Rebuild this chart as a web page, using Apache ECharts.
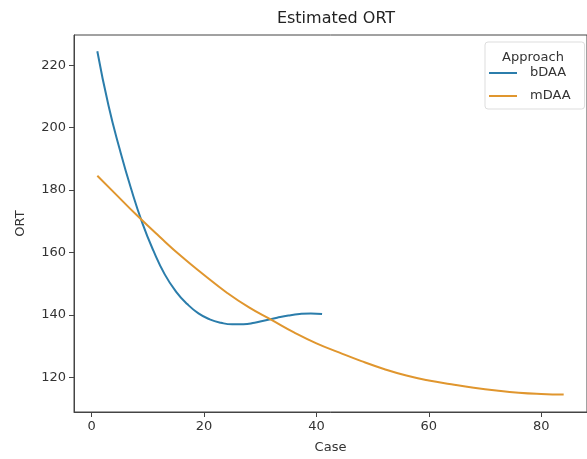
<!DOCTYPE html>
<html>
<head>
<meta charset="utf-8">
<script src="https://cdn.jsdelivr.net/npm/echarts@6/dist/echarts.min.js"></script>
<style>
  html, body { margin: 0; padding: 0; background: #fff; }
  #chart { width: 587px; height: 459px; }
</style>
</head>
<body>
<div id="chart"></div>
<script>
// values
const caseB = [1, 3, 5, 7, 9, 11, 13, 15, 17, 19, 21, 23, 25, 27, 29, 31, 33, 35, 37, 39, 41];
const ortB = [224.5, 207, 193, 180.5, 169.5, 160.5, 153, 147.5, 143.5, 140.5, 138.6, 137.5, 137.0, 137.0, 137.5, 138.3, 139.1, 139.8, 140.3, 140.5, 140.3];

const caseM = [1, 4, 8, 12, 16, 20, 24, 28, 32, 36, 40, 44, 48, 52, 56, 60, 64, 68, 72, 76, 80, 84];
const ortM = [184.6, 179.2, 172.0, 165.2, 158.7, 152.8, 147.2, 142.4, 138.4, 134.4, 130.9, 128.0, 125.2, 122.7, 120.6, 119.0, 117.8, 116.7, 115.8, 115.1, 114.7, 114.5];

const xTicks = [0, 20, 40, 60, 80];
const yTicks = [120, 140, 160, 180, 200, 220];

const chart = echarts.init(document.getElementById('chart'));
const font = 'DejaVu Sans';

const option = {
  backgroundColor: '#fff',
  animation: false,
  title: [
    {
      text: 'Estimated ORT',
      left: 331, top: 6, textAlign: 'center',
      textStyle: { fontFamily: font, fontSize: 16, fontWeight: 'normal', color: '#222' }
    },
    {
      text: 'Approach',
      left: 528, top: 46, textAlign: 'center',
      textStyle: { fontFamily: font, fontSize: 13, fontWeight: 'normal', color: '#333' }
    }
  ],
  legend: {
    orient: 'vertical',
    left: 485, top: 42,
    padding: [24, 14, 6, 4],
    icon: 'rect',
    itemWidth: 28, itemHeight: 2, itemGap: 9,
    borderColor: '#ddd', borderWidth: 1, borderRadius: 3,
    textStyle: { fontFamily: font, fontSize: 13, color: '#333', lineHeight: 14, padding: [0, 0, 0, 8] },
    data: ['bDAA', 'mDAA']
  },
  grid: { left: 74, top: 35, width: 515, height: 381, show: true, borderColor: '#444', borderWidth: 1 },
  xAxis: {
    type: 'value', min: -3.15, max: 88.15,
    name: 'Case', nameLocation: 'middle', nameGap: 29,
    nameTextStyle: { fontFamily: font, fontSize: 13, color: '#333' },
    axisLine: { onZero: false, lineStyle: { color: '#444' } },
    axisTick: { length: 5, lineStyle: { color: '#444' }, customValues: xTicks },
    axisLabel: { fontFamily: font, fontSize: 13, color: '#333', margin: 8, customValues: xTicks },
    splitLine: { show: false }
  },
  yAxis: {
    type: 'value', min: 108.9, max: 229.7,
    name: 'ORT', nameLocation: 'middle', nameGap: 47, nameRotate: 90,
    nameTextStyle: { fontFamily: font, fontSize: 13, color: '#333' },
    axisLine: { show: true, onZero: false, lineStyle: { color: '#444' } },
    axisTick: { show: true, length: 5, lineStyle: { color: '#444' }, customValues: yTicks },
    axisLabel: { fontFamily: font, fontSize: 13, color: '#333', margin: 8, customValues: yTicks },
    splitLine: { show: false }
  },
  series: [
    {
      name: 'bDAA', type: 'line', smooth: true, symbol: 'none',
      color: '#2b7dab',
      lineStyle: { width: 2, color: '#2b7dab' },
      data: caseB.map((c, i) => [c, ortB[i]])
    },
    {
      name: 'mDAA', type: 'line', smooth: true, symbol: 'none',
      color: '#e0962e',
      lineStyle: { width: 2, color: '#e0962e' },
      data: caseM.map((c, i) => [c, ortM[i]])
    }
  ]
};

chart.setOption(option);
</script>
</body>
</html>
